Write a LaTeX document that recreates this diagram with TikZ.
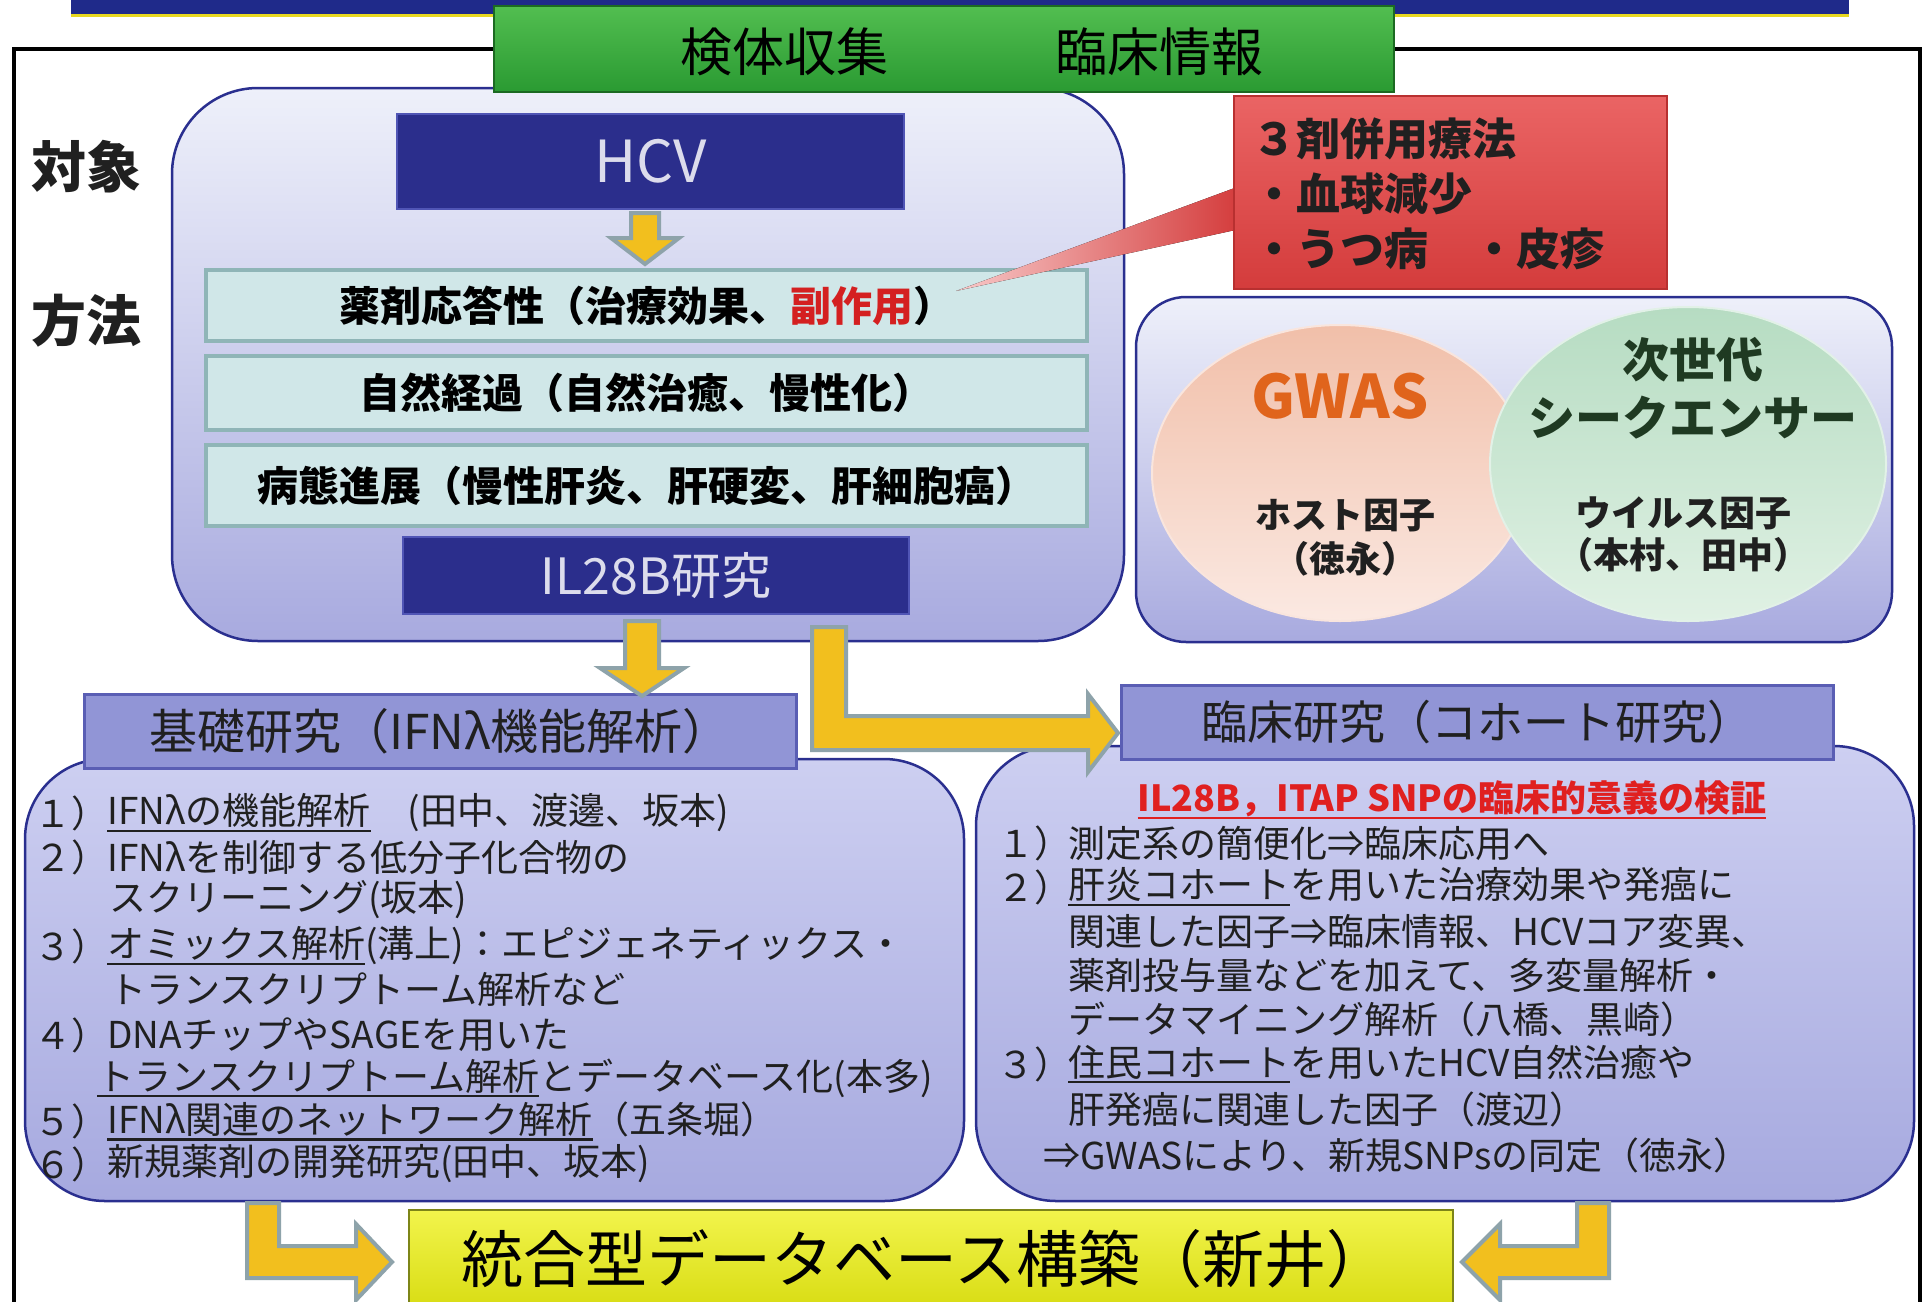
\documentclass[tikz,border=0pt]{standalone}
\usepackage{fontspec}
\setmainfont{Noto Sans CJK JP}
\usetikzlibrary{shapes.geometric}
\definecolor{barblue}{HTML}{1F2A8A}
\definecolor{yellowline}{HTML}{E8D820}
\definecolor{greentop}{HTML}{52BE50}
\definecolor{greenbot}{HTML}{2A9A32}
\definecolor{greenedge}{HTML}{1C6A22}
\definecolor{lavtop}{HTML}{EEF0FA}
\definecolor{lavbot}{HTML}{A8AADF}
\definecolor{frameblue}{HTML}{2A2F8F}
\definecolor{hcvblue}{HTML}{2B2E8C}
\definecolor{hcvedge}{HTML}{5055B5}
\definecolor{hcvtext}{HTML}{DCDCEC}
\definecolor{cyanfill}{HTML}{D0E7E8}
\definecolor{cyanedge}{HTML}{8FB5B7}
\definecolor{sidered}{HTML}{D42020}
\definecolor{arrowfill}{HTML}{F2BF1E}
\definecolor{arrowedge}{HTML}{8EA3AA}
\definecolor{redtop}{HTML}{EA6464}
\definecolor{redbot}{HTML}{D43C3C}
\definecolor{rededge}{HTML}{B83030}
\definecolor{pinktop}{HTML}{F1BFA9}
\definecolor{pinkbot}{HTML}{FBE9E2}
\definecolor{mintop}{HTML}{B6DCC2}
\definecolor{minbot}{HTML}{E0F1E4}
\definecolor{gwastext}{HTML}{E0641C}
\definecolor{seqtext}{HTML}{1F3A22}
\definecolor{hdrfill}{HTML}{9195D6}
\definecolor{hdredge}{HTML}{5A5EB4}
\definecolor{lowtop}{HTML}{CDCFF1}
\definecolor{lowbot}{HTML}{A6A9DF}
\definecolor{dbtop}{HTML}{F2F44C}
\definecolor{dbbot}{HTML}{D8DC12}
\definecolor{dbedge}{HTML}{7D8518}
\definecolor{titlered}{HTML}{E02020}
\definecolor{txt}{HTML}{202020}
\newcommand\myfs[1]{\fontsize{#1}{#1}\selectfont}
\newcommand\myul[1]{\leavevmode\setbox0=\hbox{#1}\rlap{\rule[-0.2em]{\wd0}{0.07em}}\box0}
\tikzset{
  lavbox/.style={draw=frameblue, line width=2.5pt, top color=lavtop, bottom color=lavbot, inner sep=0pt},
  lowbox/.style={draw=frameblue, line width=2.5pt, top color=lowtop, bottom color=lowbot, rounded corners=80pt, inner sep=0pt},
  darkbox/.style={draw=hcvedge, line width=2pt, fill=hcvblue, inner sep=0pt, text=hcvtext},
  cyanbox/.style={draw=cyanedge, line width=4pt, fill=cyanfill, inner sep=0pt},
  hdrbox/.style={draw=hdredge, line width=3pt, fill=hdrfill, inner sep=0pt},
  yarrow/.style={draw=arrowedge, line width=4pt, fill=arrowfill, line join=miter},
  lst/.style={anchor=west, inner sep=0pt, text=txt, font=\myfs{37}},
}
\begin{document}
\begin{tikzpicture}[x=1pt,y=-1pt]
\useasboundingbox (0,0) rectangle (1926,1301);
\fill[white] (0,0) rectangle (1926,1301);
% top bar
\fill[barblue] (71,-10) rectangle (1849,14);
\draw[yellowline, line width=3pt] (71,15.5) -- (1849,15.5);
% frame
\draw[black, line width=4.5pt] (14,1330) -- (14,49) -- (1920,49) -- (1920,1330);
% big upper box
\node[lavbox, rounded corners=86pt, minimum width=952pt, minimum height=553pt] (main) at (648,364.5) {};
% green box
\node[draw=greenedge, line width=2pt, top color=greentop, bottom color=greenbot, minimum width=900pt, minimum height=86pt, inner sep=0pt] (green) at (944,49) {};
\node[inner sep=0pt, font=\myfs{52}] (greentxt) at (972,52) {検体収集\hspace{3.2em}臨床情報};
% side labels
\node[font=\myfs{55}\bfseries, text=txt] (taisho) at (86,167) {対象};
\node[font=\myfs{55}\bfseries, text=txt] (hoho) at (86,321) {方法};
% HCV
\node[darkbox, minimum width=507pt, minimum height=95pt, font=\myfs{58}] (hcv) at (650.5,161.5) {HCV};
% small arrow
\filldraw[yarrow] (631,213) -- (659,213) -- (659,238) -- (679,238) -- (645,264) -- (611,238) -- (631,238) -- cycle;
% cyan boxes
\node[cyanbox, minimum width=881pt, minimum height=71pt, font=\myfs{41}\bfseries] (c1) at (646.5,305.5) {薬剤応答性（治療効果、\textcolor{sidered}{副作用}）};
\node[cyanbox, minimum width=881pt, minimum height=74pt, font=\myfs{41}\bfseries] (c2) at (646.5,393) {自然経過（自然治癒、慢性化）};
\node[cyanbox, minimum width=881pt, minimum height=81pt, font=\myfs{41}\bfseries] (c3) at (646.5,485.5) {病態進展（慢性肝炎、肝硬変、肝細胞癌）};
% IL28B
\node[darkbox, minimum width=506pt, minimum height=77pt, font=\myfs{50}] (il) at (656,575.5) {IL28B研究};
% red callout
\fill[left color=redtop!35, right color=redbot] (956,291) -- (1240,186) -- (1240,229) -- cycle;
\node[draw=rededge, line width=2pt, top color=redtop, bottom color=redbot, minimum width=433pt, minimum height=193pt, inner sep=0pt] (red) at (1450.5,192.5) {};
\node[anchor=west, inner sep=0pt, font=\myfs{44}\bfseries, text=txt] (r1) at (1252,139) {３剤併用療法};
\node[anchor=west, inner sep=0pt, font=\myfs{44}\bfseries, text=txt] (r2) at (1252,194) {・血球減少};
\node[anchor=west, inner sep=0pt, font=\myfs{44}\bfseries, text=txt] (r3) at (1252,249) {・うつ病　・皮疹};
% GWAS box
\node[lavbox, rounded corners=50pt, minimum width=756pt, minimum height=345pt] (gbox) at (1514,469.5) {};
\node[ellipse, draw=white!60!pinktop, line width=2pt, top color=pinktop, bottom color=pinkbot, minimum width=376pt, minimum height=296pt, inner sep=0pt] (pink) at (1340,473) {};
\node[ellipse, draw=white!60!mintop, line width=2pt, top color=mintop, bottom color=minbot, minimum width=396pt, minimum height=314pt, inner sep=0pt] (mint) at (1688,464) {};
\node[font=\myfs{60}\bfseries, text=gwastext, inner sep=0pt] (gwas) at (1340,396) {GWAS};
\node[font=\myfs{36}\bfseries, text=txt, inner sep=0pt] (host) at (1345,516) {ホスト因子};
\node[font=\myfs{36}\bfseries, text=txt, inner sep=0pt] (host2) at (1345,559) {（徳永）};
\node[font=\myfs{47}\bfseries, text=seqtext, inner sep=0pt] (seq1) at (1693,360) {次世代};
\node[font=\myfs{47}\bfseries, text=seqtext, inner sep=0pt] (seq2) at (1693,418) {シークエンサー};
\node[font=\myfs{36}\bfseries, text=txt, inner sep=0pt] (vir) at (1683,513) {ウイルス因子};
\node[font=\myfs{36}\bfseries, text=txt, inner sep=0pt] (vir2) at (1683,555) {（本村、田中）};
% lower boxes
\node[lowbox, minimum width=939pt, minimum height=442pt] (lowL) at (494.5,980) {};
\node[lowbox, minimum width=938pt, minimum height=455pt] (lowR) at (1445,973.5) {};
\node[hdrbox, minimum width=712pt, minimum height=74pt, font=\myfs{48}, text=txt] (hdrL) at (440,731) {基礎研究（IFNλ機能解析）};
\node[hdrbox, minimum width=712pt, minimum height=74pt, font=\myfs{46}, text=txt] (hdrR) at (1477,722) {臨床研究（コホート研究）};
% arrows from IL28B
\filldraw[yarrow] (625,621) -- (659,621) -- (659,668) -- (684,668) -- (642,696) -- (600,668) -- (625,668) -- cycle;
\filldraw[yarrow] (812,627) -- (846,627) -- (846,716) -- (1088,716) -- (1088,694) -- (1118,733) -- (1088,772) -- (1088,750) -- (812,750) -- cycle;
% left list
\node[lst] (n1) at (34,813) {１）};
\node[lst] (t1) at (107,813) {\myul{IFNλの機能解析}　(田中、渡邊、坂本)};
\node[lst] (n2) at (34,857) {２）};
\node[lst] (t2) at (107,857) {IFNλを制御する低分子化合物の};
\node[lst] (t2b) at (109,900) {スクリーニング(坂本)};
\node[lst] (n3) at (34,946) {３）};
\node[lst] (t3) at (107,946) {\myul{オミックス解析}(溝上)：エピジェネティックス・};
\node[lst] (t3b) at (109,989) {トランスクリプトーム解析など};
\node[lst] (n4) at (34,1035) {４）};
\node[lst] (t4) at (107,1035) {DNAチップやSAGEを用いた};
\node[lst] (t4b) at (97,1078) {\myul{トランスクリプトーム解析}とデータベース化(本多)};
\node[lst] (n5) at (34,1121) {５）};
\node[lst] (t5) at (107,1121) {\myul{IFNλ関連のネットワーク解析}（五条堀）};
\node[lst] (n6) at (34,1164) {６）};
\node[lst] (t6) at (107,1164) {新規薬剤の開発研究(田中、坂本)};
% right list
\node[inner sep=0pt, font=\myfs{36}\bfseries, text=titlered] (rtitle) at (1452,800) {\myul{IL28B，ITAP SNPの臨床的意義の検証}};
\node[lst] (m1) at (997,843) {１）};
\node[lst] (s1) at (1068,843) {測定系の簡便化⇒臨床応用へ};
\node[lst] (m2) at (997,887) {２）};
\node[lst] (s2) at (1068,887) {\myul{肝炎コホート}を用いた治療効果や発癌に};
\node[lst] (s2b) at (1068,931) {関連した因子⇒臨床情報、HCVコア変異、};
\node[lst] (s2c) at (1068,975) {薬剤投与量などを加えて、多変量解析・};
\node[lst] (s2d) at (1068,1019) {データマイニング解析（八橋、黒崎）};
\node[lst] (m3) at (997,1064) {３）};
\node[lst] (s3) at (1068,1064) {\myul{住民コホート}を用いたHCV自然治癒や};
\node[lst] (s3b) at (1068,1109) {肝発癌に関連した因子（渡辺）};
\node[lst] (s3c) at (1043,1155) {⇒GWASにより、新規SNPsの同定（徳永）};
% database box
\node[draw=dbedge, line width=2pt, top color=dbtop, bottom color=dbbot, minimum width=1044pt, minimum height=100pt, inner sep=0pt] (db) at (931,1260) {};
\node[inner sep=0pt, font=\myfs{62}, text=black] (dbtxt) at (925,1259) {統合型データベース構築（新井）};
% bottom arrows
\filldraw[yarrow] (247,1203) -- (279,1203) -- (279,1246) -- (356,1246) -- (356,1224) -- (392,1262) -- (356,1300) -- (356,1278) -- (247,1278) -- cycle;
\filldraw[yarrow] (1577,1203) -- (1609,1203) -- (1609,1278) -- (1500,1278) -- (1500,1300) -- (1462,1262) -- (1500,1224) -- (1500,1246) -- (1577,1246) -- cycle;
\end{tikzpicture}
\end{document}
